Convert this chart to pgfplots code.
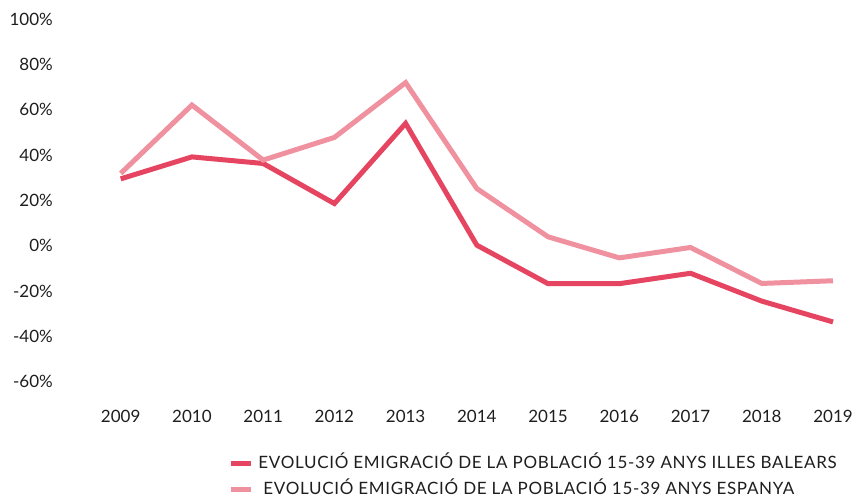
\documentclass[border=0pt]{standalone}
\usepackage{fontspec}
\setmainfont{Lato}
\newfontfamily\legfont[LetterSpace=4]{Lato}
\usepackage{pgfplots}
\pgfplotsset{compat=1.18}
\definecolor{dark}{RGB}{230,69,97}
\definecolor{light}{RGB}{240,145,160}
\definecolor{txt}{RGB}{30,30,30}
\begin{document}
\begin{tikzpicture}
\begin{axis}[
  name=ax,
  at={(0,0)}, anchor=south west,
  scale only axis,
  width=712.3bp, height=362.25bp,
  xmin=2009, xmax=2019, ymin=-60, ymax=100,
  clip=false,
  axis line style={draw=none},
  major tick length=0pt,
  xtick={2009,2010,...,2019},
  ytick={-60,-40,...,100},
  /pgf/number format/assume math mode=true,
  /pgf/number format/1000 sep={},
  yticklabel={\pgfmathprintnumber{\tick}\%},
  tick label style={font=\fontsize{17bp}{20bp}\selectfont, text=txt},
  yticklabel style={anchor=east, inner sep=0pt, xshift=-67.7bp},
  xticklabel style={anchor=north, inner sep=0pt, yshift=-28.75bp},
  legend style={
    at={(axis description cs:0.151,-0.2036)}, anchor=north west,
    draw=none, fill=none, inner sep=0pt,
    column sep=5bp, row sep=9bp,
    font=\legfont\fontsize{17bp}{20bp}\selectfont, text=txt,
    nodes={inner sep=0pt, text height=13bp, text depth=4bp},
    cells={anchor=west},
  },
  legend image code/.code={\draw[#1, line width=5bp] (0bp,0bp) -- (20bp,0bp);},
]
\addplot[dark, line width=5bp] coordinates {
  (2009,29.5) (2010,39.2) (2011,36.3) (2012,18.6) (2013,54.0) (2014,0.2)
  (2015,-16.8) (2016,-16.8) (2017,-12.2) (2018,-24.5) (2019,-33.7)};
\addlegendentry{EVOLUCIÓ EMIGRACIÓ DE LA POBLACIÓ 15-39 ANYS ILLES BALEARS}
\addplot[light, line width=5bp] coordinates {
  (2009,31.9) (2010,62.1) (2011,37.8) (2012,47.8) (2013,72.0) (2014,25.2)
  (2015,3.9) (2016,-5.4) (2017,-0.8) (2018,-16.7) (2019,-15.5)};
\addlegendentry{\hspace*{5bp}EVOLUCIÓ EMIGRACIÓ DE LA POBLACIÓ 15-39 ANYS ESPANYA}
\end{axis}
\pgfresetboundingbox
\path ([xshift=-120.7bp,yshift=-115.75bp]ax.south west) rectangle ([xshift=22bp,yshift=19.25bp]ax.north east);
\end{tikzpicture}
\end{document}
